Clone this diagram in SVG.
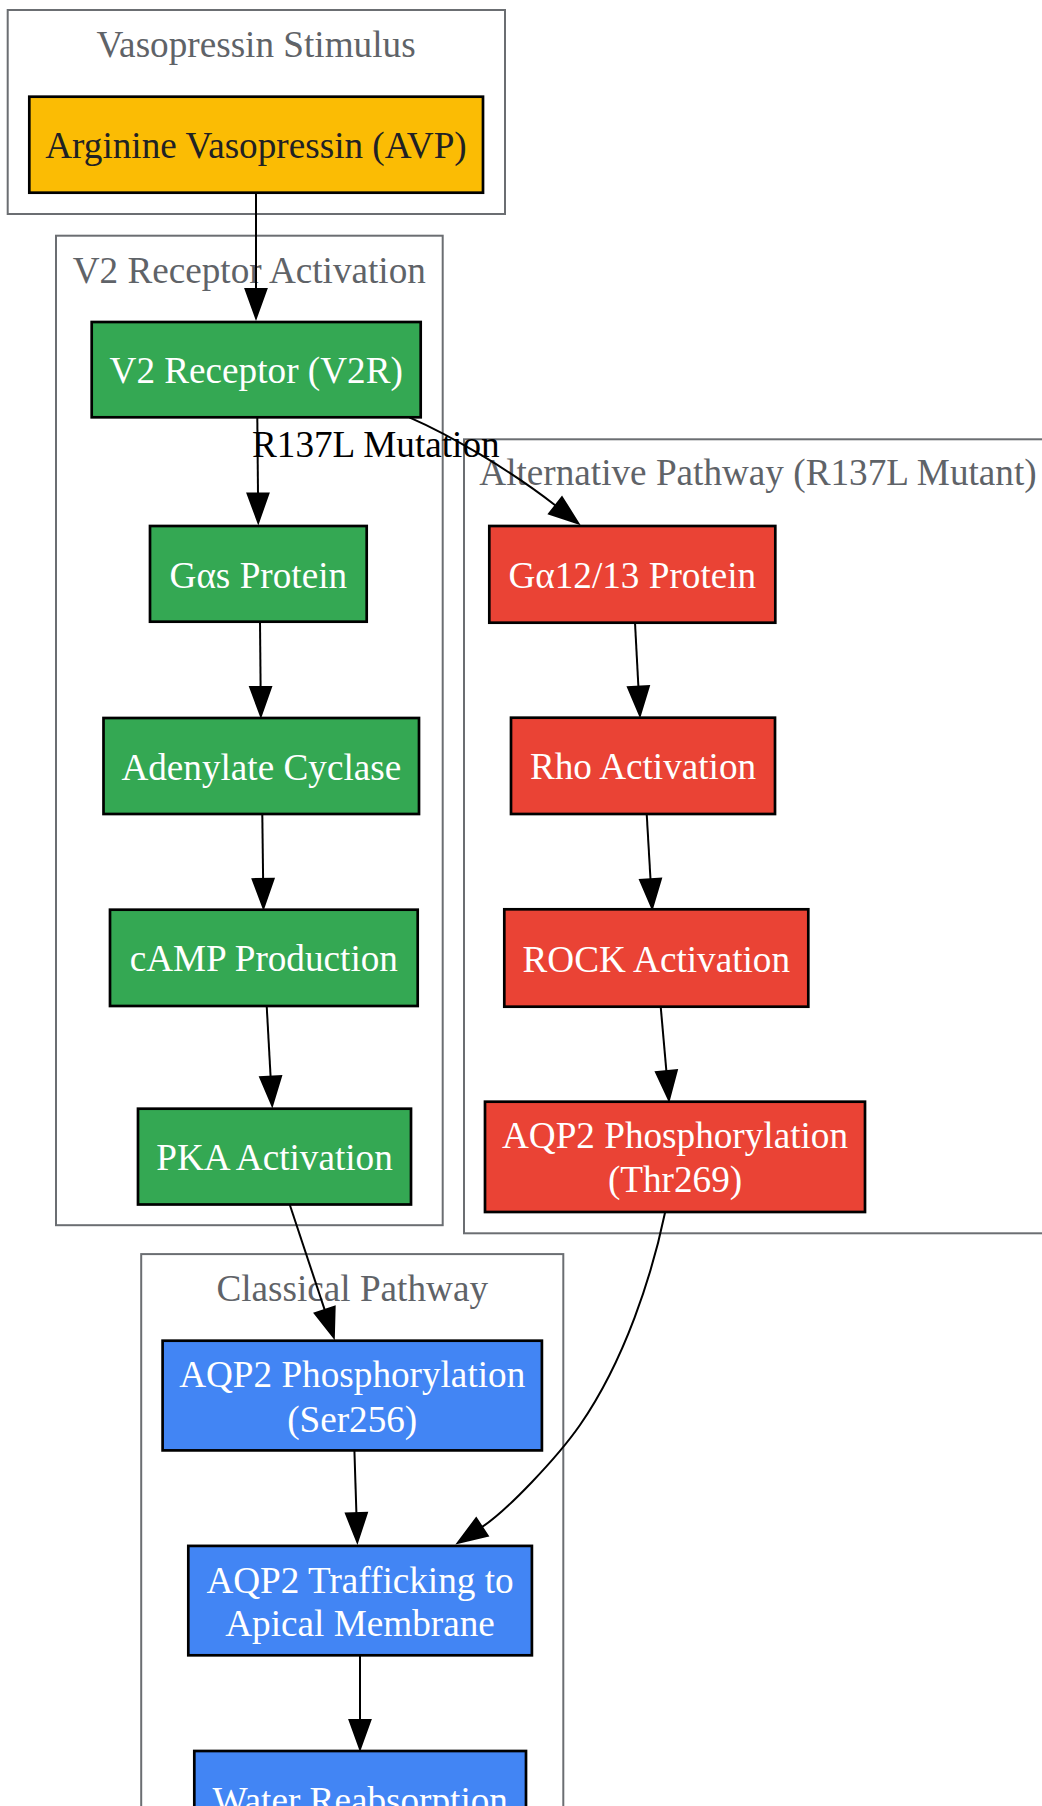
<svg xmlns="http://www.w3.org/2000/svg" width="1042" height="1806" viewBox="0 0 1042 1806">
<style>
text{font-family:"Liberation Serif","Times New Roman",serif;font-size:37.2px;text-anchor:middle}
.cl rect{fill:none;stroke:#6b6e72;stroke-width:2}
.cl text{fill:#5f6368}
.n rect{stroke:#000;stroke-width:2.7}
.n text{fill:#fff}
.y rect{fill:#fbbc04}
.y text{fill:#202124}
.g rect{fill:#34a853}
.r rect{fill:#ea4335}
.b rect{fill:#4285f4}
.e path{fill:none;stroke:#000;stroke-width:2;marker-end:url(#ah)}
.lbl{fill:#000}
</style>
<defs>
<marker id="ah" markerUnits="userSpaceOnUse" markerWidth="34" markerHeight="26" refX="1" refY="12" orient="auto" overflow="visible">
<path d="M1,1.5 L30,12 L1,22.5 Z" fill="#000" stroke="#000" stroke-width="2"/>
</marker>
</defs>
<rect width="1042" height="1806" fill="#fff"/>
<g id="clusters">
<g id="cluster_stimulus" class="cl"><rect x="7.7" y="10" width="497.3" height="204"/><text x="256" y="57">Vasopressin Stimulus</text></g>
<g id="cluster_v2" class="cl"><rect x="56" y="235.7" width="386.7" height="989.5"/><text x="249.3" y="282.7">V2 Receptor Activation</text></g>
<g id="cluster_alt" class="cl"><rect x="464" y="439.3" width="588" height="794"/><text x="758" y="485">Alternative Pathway (R137L Mutant)</text></g>
<g id="cluster_classical" class="cl"><rect x="141.2" y="1254.1" width="422.1" height="600"/><text x="352.2" y="1300.5">Classical Pathway</text></g>
</g>
<g id="edges" class="e">
<path d="M256,193 L256,289"/>
<path d="M257.3,417.5 L258,493.5"/>
<path d="M260,621.6 L260.6,687"/>
<path d="M262.3,814 L263.1,879"/>
<path d="M266.7,1006 L270.6,1076.7"/>
<path d="M289.7,1204.5 L324.7,1309.9"/>
<path d="M354.4,1450.4 L356.4,1513.2"/>
<path d="M360,1655.3 L360,1720"/>
<path d="M409.3,417.3 C450,435 510,470 555.5,505.5"/>
<path d="M635,622.7 L638.4,686.7"/>
<path d="M646.7,814 L650.5,879.3"/>
<path d="M660.7,1006.7 L666.4,1071.1"/>
<path d="M665,1212.7 C652,1275 625,1360 580,1425 C557,1458 507,1510.5 482,1527"/>
<text class="lbl" x="375.8" y="456.7">R137L Mutation</text>
</g>
<g id="avp" class="n y"><rect x="29.3" y="96.7" width="453.7" height="96"/><text x="256" y="158.3">Arginine Vasopressin (AVP)</text></g>
<g id="v2r" class="n g"><rect x="91.7" y="322" width="329" height="95.3"/><text x="256.2" y="383.3">V2 Receptor (V2R)</text></g>
<g id="gas" class="n g"><rect x="150" y="526" width="216.7" height="95.7"/><text x="258.3" y="587.5">Gαs Protein</text></g>
<g id="ac" class="n g"><rect x="103.5" y="718" width="315.5" height="96"/><text x="261.3" y="779.5">Adenylate Cyclase</text></g>
<g id="camp" class="n g"><rect x="110" y="909.7" width="307.7" height="96.3"/><text x="263.8" y="971.3">cAMP Production</text></g>
<g id="pka" class="n g"><rect x="138" y="1108.7" width="273" height="95.8"/><text x="274.5" y="1170.2">PKA Activation</text></g>
<g id="ga12" class="n r"><rect x="489.3" y="526" width="286" height="96.7"/><text x="632.3" y="587.8">Gα12/13 Protein</text></g>
<g id="rho" class="n r"><rect x="511" y="717.7" width="264" height="96.3"/><text x="643" y="779.3">Rho Activation</text></g>
<g id="rock" class="n r"><rect x="504.3" y="909.3" width="304" height="97.4"/><text x="656.3" y="971.5">ROCK Activation</text></g>
<g id="thr269" class="n r"><rect x="485" y="1101.7" width="380" height="110.3"/><text x="675" y="1148.3">AQP2 Phosphorylation</text><text x="675" y="1192">(Thr269)</text></g>
<g id="ser256" class="n b"><rect x="162.6" y="1340.7" width="379.3" height="109.7"/><text x="352.2" y="1387.4">AQP2 Phosphorylation</text><text x="352.2" y="1431.5">(Ser256)</text></g>
<g id="traff" class="n b"><rect x="188.3" y="1545.9" width="343.6" height="109.4"/><text x="360" y="1592.5">AQP2 Trafficking to</text><text x="360" y="1636.3">Apical Membrane</text></g>
<g id="water" class="n b"><rect x="194.3" y="1751" width="331.7" height="96"/><text x="360.2" y="1812.6">Water Reabsorption</text></g>
</svg>
